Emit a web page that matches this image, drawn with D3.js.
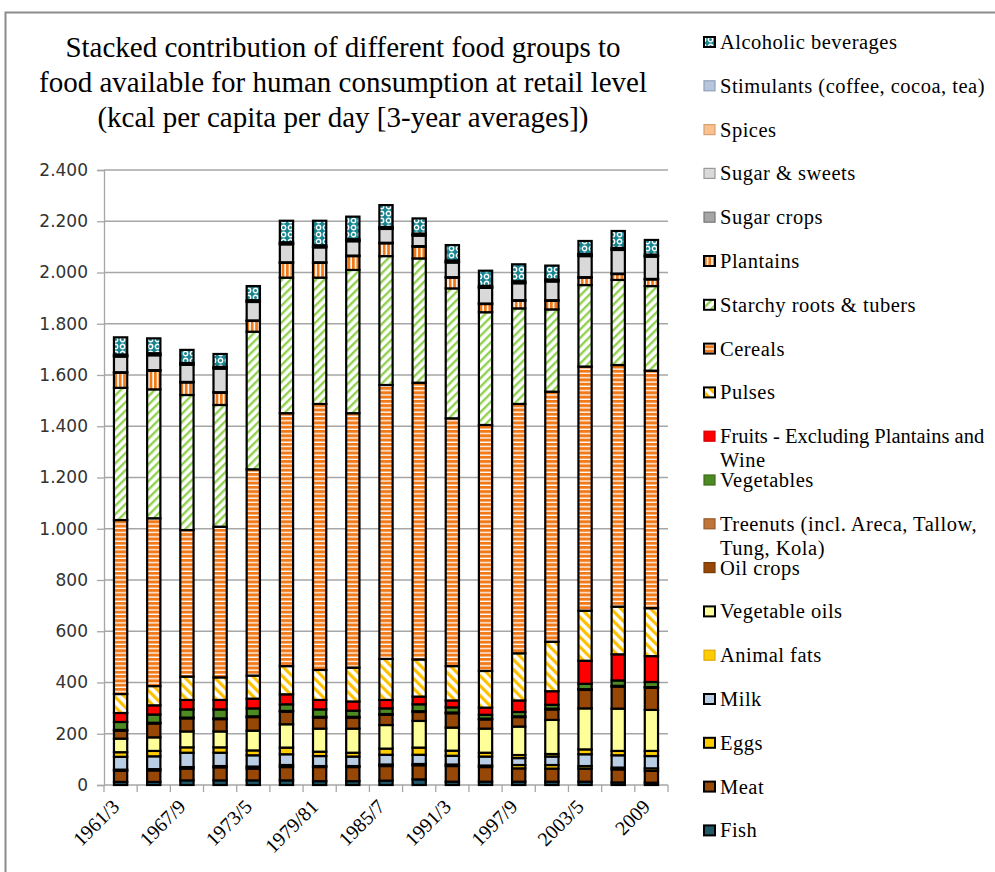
<!DOCTYPE html>
<html><head><meta charset="utf-8">
<script src="https://cdn.jsdelivr.net/npm/d3@7"></script>
<style>body{margin:0;background:#fff} svg{display:block}</style>
</head><body><svg id="c" width="995" height="872"></svg>
<script>
// ---------- DATA ----------
const categories = ["1961/3","1964/6","1967/9","1970/2","1973/5","1976/8","1979/81","1982/4","1985/7","1988/90","1991/3","1994/6","1997/9","2000/2","2003/5","2006/8","2009"];
const tickLabels = ["1961/3","1967/9","1973/5","1979/81","1985/7","1991/3","1997/9","2003/5","2009"];
const yTicks = [0,200,400,600,800,1000,1200,1400,1600,1800,2000,2200,2400];

const fish       = [12,12,18,18,18,18,15,15,17,22,13,13,13,13,13,10,9];
const meat       = [43,45,46,51,46,52,55,55,57,55,61,57,52,51,51,51,46];
const eggs       = [5,5,6,5,8,8,4,4,6,5,6,6,13,14,10,7,10];
const milk       = [50,50,56,52,44,42,39,37,38,36,34,35,27,33,46,48,48];
const animalFats = [18,21,21,21,19,26,17,15,24,28,20,15,12,10,19,17,20];
const vegOils    = [53,53,62,62,77,91,90,94,92,104,90,94,111,133,160,165,160];
const oilCrops   = [31,54,51,48,53,49,43,43,40,35,56,36,37,41,72,86,86];
const treenuts   = [3,3,3,3,3,3,3,3,3,3,3,3,3,3,3,3,3];
const vegetables = [31,32,32,35,31,26,29,24,22,27,20,15,17,15,21,21,20];
const fruits     = [35,36,37,37,38,39,37,36,33,30,27,28,45,53,90,102,101];
const pulses     = [74,75,91,88,90,110,117,132,160,145,134,143,184,193,195,186,187];
const cereals    = [679,655,572,588,805,987,1038,993,1069,1080,967,960,973,976,953,943,927];
const starchy    = [516,503,527,475,537,529,493,559,503,485,507,440,373,321,318,332,330];
const plantains  = [59,73,49,48,42,58,58,54,50,46,42,32,30,34,29,23,26];
const sugarCrops = [2,2,2,2,2,2,2,2,2,2,2,2,2,2,2,2,2];
const sugar      = [61,58,67,92,72,70,58,56,54,41,57,61,66,73,82,92,87];
const spices     = [2,2,2,2,2,2,2,2,2,2,2,2,2,2,2,2,2];
const stimulants = [6,6,5,5,5,6,6,6,6,6,6,6,6,6,6,6,6];
const alcohol    = [67,58,51,50,55,84,96,88,85,59,60,59,66,54,51,66,57];

// stack order bottom -> top
const seriesNames = ["Fish","Meat","Eggs","Milk","Animal fats","Vegetable oils","Oil crops",
  "Treenuts (incl. Areca, Tallow,\nTung, Kola)","Vegetables","Fruits - Excluding Plantains and\nWine",
  "Pulses","Cereals","Starchy roots & tubers","Plantains","Sugar crops","Sugar & sweets","Spices",
  "Stimulants (coffee, cocoa, tea)","Alcoholic beverages"];
const seriesValues = [fish,meat,eggs,milk,animalFats,vegOils,oilCrops,treenuts,vegetables,fruits,
  pulses,cereals,starchy,plantains,sugarCrops,sugar,spices,stimulants,alcohol];

// ---------- STYLE ----------
const fills = ["#215868","#974706","#FFCC00","#B9CDE5","#FFCC00","#FFFF99","#974706","#C0753A","#4E8A22","#FF0000",
  "url(#pPulses)","url(#pCereals)","url(#pStarchy)","url(#pPlantains)","#A6A6A6","#D9D9D9","#FAC090","#B7C6DC","url(#pAlcohol)"];
const legendStroke = ["#000","#000","#000","#000","#E0A800","#000","#7a3a05","#9a5a2a","#3c6a1a","#d00000",
  "#000","#000","#000","#000","#777","#999","#d9a070","#8fa0b8","#000"];

const svg = d3.select("#c");
const defs = svg.append("defs");

// cereals: horizontal orange stripes
let p = defs.append("pattern").attr("id","pCereals").attr("patternUnits","userSpaceOnUse").attr("width",6).attr("height",4.3);
p.append("rect").attr("width",6).attr("height",4.3).attr("fill","#fff");
p.append("rect").attr("width",6).attr("height",3).attr("fill","#F07A1A");
// plantains: vertical orange stripes
p = defs.append("pattern").attr("id","pPlantains").attr("patternUnits","userSpaceOnUse").attr("width",4.4).attr("height",6);
p.append("rect").attr("width",4.4).attr("height",6).attr("fill","#fff");
p.append("rect").attr("width",2.8).attr("height",6).attr("fill","#F07A1A");
// starchy: green "/" diagonals
p = defs.append("pattern").attr("id","pStarchy").attr("patternUnits","userSpaceOnUse").attr("width",6).attr("height",6)
  .attr("patternTransform","rotate(45)");
p.append("rect").attr("width",6).attr("height",6).attr("fill","#fff");
p.append("rect").attr("width",2.4).attr("height",6).attr("fill","#92D050");
// pulses: gold "\" diagonals
p = defs.append("pattern").attr("id","pPulses").attr("patternUnits","userSpaceOnUse").attr("width",7).attr("height",7)
  .attr("patternTransform","rotate(-45)");
p.append("rect").attr("width",7).attr("height",7).attr("fill","#fff");
p.append("rect").attr("width",3.2).attr("height",7).attr("fill","#FFC000");
// alcohol: teal with white rings
p = defs.append("pattern").attr("id","pAlcohol").attr("patternUnits","userSpaceOnUse").attr("width",7).attr("height",7);
p.append("rect").attr("width",7).attr("height",7).attr("fill","#178591");
p.append("circle").attr("cx",3.5).attr("cy",3.5).attr("r",2.2).attr("fill","none").attr("stroke","#fff").attr("stroke-width",1.4);

// frame
svg.append("rect").attr("x",5.5).attr("y",12.5).attr("width",1100).attr("height",1000)
  .attr("fill","none").attr("stroke","#8c8c8c").attr("stroke-width",2);

// title
const titleLines = ["Stacked contribution of different food groups to",
  "food available for human consumption at retail level",
  "(kcal per capita per day [3-year averages])"];
svg.append("g").selectAll("text").data(titleLines).join("text")
  .attr("x",343).attr("y",(d,i)=>57+i*35).attr("text-anchor","middle")
  .attr("font-family","Liberation Serif").attr("font-size",29).attr("fill","#000").text(d=>d);

// scales
const x = d3.scaleBand().domain(categories).range([104,668]).paddingInner(0.6).paddingOuter(0.3);
const y = d3.scaleLinear().domain([0,2400]).range([785,170]);
const fmt = d3.formatLocale({decimal:",",thousands:".",grouping:[3],currency:["",""]}).format(",d");

// gridlines
svg.append("g").selectAll("line").data(yTicks.filter(d=>d>0)).join("line")
  .attr("x1",104).attr("x2",668).attr("y1",d=>y(d)).attr("y2",d=>y(d))
  .attr("stroke","#a6a6a6").attr("stroke-width",1.3);

// y axis
const yAxis = svg.append("g").attr("transform","translate(104,0)")
  .call(d3.axisLeft(y).tickValues(yTicks).tickFormat(fmt).tickSize(7).tickPadding(9));
yAxis.select(".domain").attr("stroke","#a6a6a6").attr("stroke-width",1.3);
yAxis.selectAll(".tick line").attr("stroke","#a6a6a6").attr("stroke-width",1.3);
yAxis.selectAll("text").attr("font-family","DejaVu Sans").attr("font-size",17).attr("fill","#333");

// x axis line + ticks at category boundaries
const bounds = d3.range(categories.length+1).map(i=>x.range()[0]+i*((x.range()[1]-x.range()[0])/categories.length));
svg.append("line").attr("x1",104).attr("x2",668).attr("y1",785).attr("y2",785).attr("stroke","#a6a6a6").attr("stroke-width",1.3);
svg.append("g").selectAll("line").data(bounds).join("line")
  .attr("x1",d=>d).attr("x2",d=>d).attr("y1",785).attr("y2",792).attr("stroke","#a6a6a6").attr("stroke-width",1.3);

// stacked bars
const table = categories.map((c,i)=>{ const o={cat:c}; seriesNames.forEach((n,k)=>o[n]=seriesValues[k][i]); return o; });
const stack = d3.stack().keys(seriesNames)(table);
svg.append("g").selectAll("g").data(stack).join("g")
  .attr("fill",(d,k)=>fills[k])
  .selectAll("rect").data(d=>d).join("rect")
  .attr("x",d=>x(d.data.cat)).attr("width",x.bandwidth())
  .attr("y",d=>y(d[1])).attr("height",d=>Math.max(0,y(d[0])-y(d[1])))
  .attr("stroke","#000").attr("stroke-width",2.2);

// x labels
svg.append("g").selectAll("text").data(tickLabels).join("text")
  .attr("transform",d=>`translate(${x(d)+x.bandwidth()/2},808) rotate(-45)`)
  .attr("text-anchor","end").attr("font-family","Liberation Serif").attr("font-size",20).attr("fill","#000")
  .text(d=>d);

// legend (reverse order)
const legendOrder = d3.range(seriesNames.length).reverse();
const lg = svg.append("g").selectAll("g").data(legendOrder).join("g")
  .attr("transform",(k,i)=>`translate(0,${43+i*43.8})`);
lg.append("rect").attr("x",704).attr("y",-6).attr("width",11).attr("height",10)
  .attr("fill",k=>fills[k]).attr("stroke",k=>legendStroke[k]).attr("stroke-width",k=>legendStroke[k]==="#000"?2:1.2);
lg.each(function(k){
  const lines = seriesNames[k].split("\n");
  d3.select(this).selectAll("text").data(lines).join("text")
    .attr("x",720).attr("y",(d,j)=>6+j*24)
    .attr("font-family","Liberation Serif").attr("font-size",20.5)
    .attr("letter-spacing",d=>d.length>31?0:0.5)
    .attr("fill","#000").text(d=>d);
});
</script></body></html>
